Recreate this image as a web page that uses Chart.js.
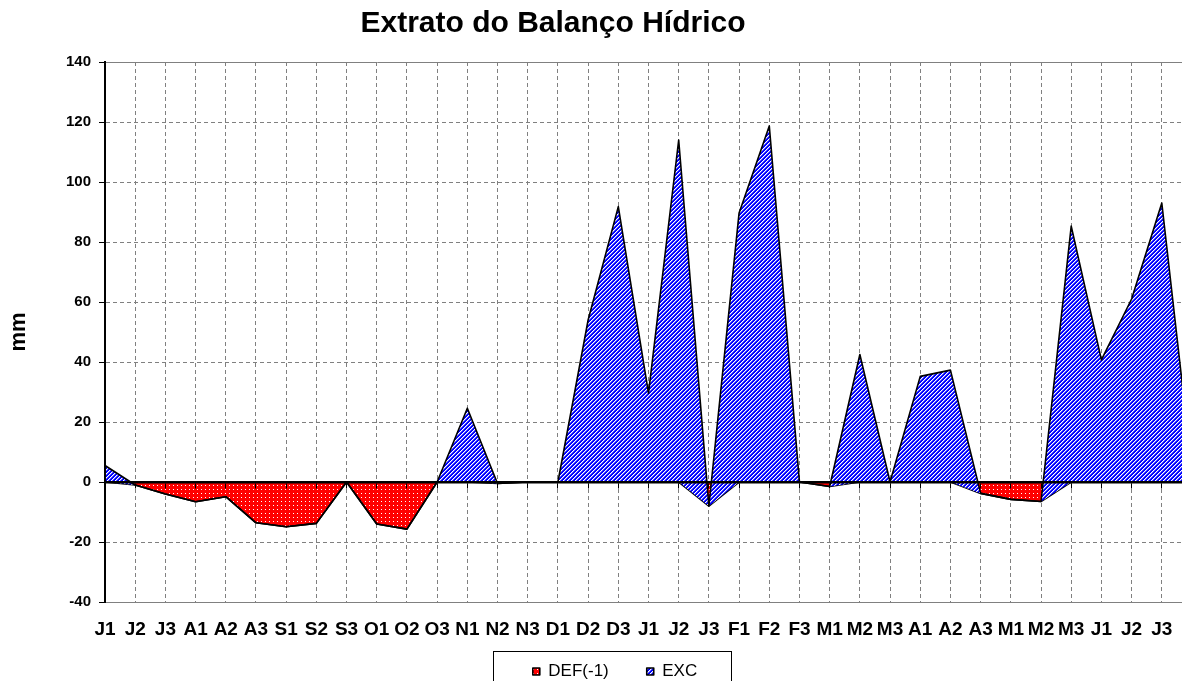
<!DOCTYPE html>
<html>
<head>
<meta charset="utf-8">
<title>Extrato do Balanço Hídrico</title>
<script src="https://cdn.jsdelivr.net/npm/chart.js@4"></script>
<style>
  html, body { margin: 0; padding: 0; overflow: hidden; background: #fff; }
  canvas { display: block; }
</style>
</head>
<body>
<canvas id="balanco" width="1222" height="710"></canvas>
<script>
// decendios (jul -> jun); the last point sits past the cropped right edge
const decendios = ["J1", "J2", "J3", "A1", "A2", "A3", "S1", "S2", "S3", "O1", "O2", "O3",
  "N1", "N2", "N3", "D1", "D2", "D3", "J1", "J2", "J3", "F1", "F2", "F3",
  "M1", "M2", "M3", "A1", "A2", "A3", "M1", "M2", "M3", "J1", "J2", "J3", ""];

// deficit, already multiplied by -1
const def = [0, -1, -4, -6.6, -4.9, -13.6, -14.9, -13.8, 0, -14, -15.7, 0,
  0, -0.5, 0, 0, 0, 0, 0, 0, -8, 0, 0, 0,
  -1.5, 0, 0, 0, 0, -3.8, -5.8, -6.5, 0, 0, 0, 0, 0];

// excedente (stacked on top of DEF, like the excel sheet)
const exc = [5.5, 0, 0, 0, 0, 0, 0, 0, 0, 0, 0, 0,
  24.6, 0, 0, 0, 54, 91.8, 29.6, 114, 0, 89.7, 118.7, 0,
  0, 42.5, 0, 35.2, 37.3, 0, 0, 0, 85.3, 40.7, 61, 93, 4];

const yMin = -40, yMax = 140, yStep = 20;

const fontFamily = "'Liberation Sans', Arial, sans-serif";
Chart.defaults.font.family = fontFamily;
Chart.defaults.color = "#000";

// small fill patterns: red with white dots, blue with white "/" hatch
function makePattern(bg, paint) {
  const c = document.createElement("canvas");
  c.width = 4;
  c.height = 4;
  const g = c.getContext("2d");
  g.fillStyle = bg;
  g.fillRect(0, 0, 4, 4);
  paint(g);
  return g.createPattern(c, "repeat");
}
const dots = makePattern("#ff0000", g => {
  g.fillStyle = "#ffffff";
  g.fillRect(1, 1, 1, 1);
});
const hatch = makePattern("#0000ff", g => {
  for (let i = 0; i < 4; i++) {
    g.fillStyle = "#ffffff";
    g.fillRect(3 - i, i, 1, 1);
    g.fillStyle = "#7070ff";
    g.fillRect((4 - i) % 4, i, 1, 1);
  }
});

// excel draws EXC over DEF, chart.js does the opposite by default
const indexOrder = {
  id: "indexOrder",
  beforeDatasetsDraw(chart) {
    if (typeof chart._drawDataset !== "function") return;
    chart.getSortedVisibleDatasetMetas()
      .slice()
      .sort((a, b) => a.index - b.index)
      .forEach(meta => chart._drawDataset(meta));
    return false;
  }
};

// title and legend are not centred on the same x in the original,
// and the legend sits a bit closer to the axis labels
const boxShift = {
  id: "boxShift",
  afterLayout(chart) {
    chart.titleBlock.left = 0;
    chart.titleBlock.right = 1106;
    chart.legend.left = 38;
    chart.legend.top = 625;
  },
  afterDraw(chart) {
    const lg = chart.legend;
    const cx = (lg.left + lg.right) / 2;
    const ctx = chart.ctx;
    ctx.save();
    ctx.strokeStyle = "#000";
    ctx.lineWidth = 1;
    ctx.strokeRect(Math.round(cx - 122) + 0.5, 651.5, 238, 60);
    ctx.restore();
  }
};

new Chart(document.getElementById("balanco"), {
  type: "line",
  data: {
    labels: decendios,
    datasets: [
      {
        label: "DEF(-1)",
        data: def,
        backgroundColor: dots,
        borderColor: "#000",
        borderWidth: 1.6,
        borderJoinStyle: "round",
        fill: "origin",
        pointRadius: 0,
        tension: 0
      },
      {
        label: "EXC",
        data: exc,
        backgroundColor: hatch,
        borderColor: "#000",
        borderWidth: 1.6,
        borderJoinStyle: "round",
        fill: "-1",
        pointRadius: 0,
        tension: 0
      }
    ]
  },
  options: {
    responsive: false,
    animation: false,
    devicePixelRatio: 1,
    layout: { padding: { left: 0, right: 30, top: 0, bottom: 3 } },
    plugins: {
      title: {
        display: true,
        text: "Extrato do Balanço Hídrico",
        color: "#000",
        font: { size: 30, weight: "bold" },
        padding: { top: 6, bottom: 20 }
      },
      legend: {
        position: "bottom",
        labels: {
          boxWidth: 7,
          boxHeight: 7,
          padding: 38,
          color: "#000",
          font: { size: 17 }
        }
      },
      tooltip: { enabled: false }
    },
    scales: {
      x: {
        offset: false,
        grid: { color: "#808080", drawTicks: false },
        border: { color: "#808080", width: 1, dash: [4, 3] },
        ticks: {
          autoSkip: false,
          maxRotation: 0,
          padding: 16,
          color: "#000",
          font: { size: 19, weight: "bold" }
        },
        afterFit(scale) { scale.height = 40; }
      },
      // category axis crossing at 0, drawn above the areas
      xZero: {
        type: "category",
        position: { y: 0 },
        offset: false,
        grid: { display: true, drawOnChartArea: false, tickLength: 5, tickColor: "#000", z: 1 },
        border: { color: "#000", width: 2.5, z: 1 },
        ticks: { display: false }
      },
      y: {
        stacked: "single",
        min: yMin,
        max: yMax,
        ticks: {
          stepSize: yStep,
          padding: 8,
          color: "#000",
          font: { size: 15, weight: "bold" }
        },
        grid: { color: "#808080", tickLength: 6, tickColor: "#000" },
        border: {
          color: "#000",
          width: 2,
          z: 1,
          dash: ctx => (ctx.tick && (ctx.tick.value === yMin || ctx.tick.value === yMax)) ? [] : [4, 3]
        },
        title: {
          display: true,
          text: "mm",
          color: "#000",
          font: { size: 22, weight: "bold" },
          padding: { top: 6, bottom: 0 }
        },
        afterFit(scale) { scale.width = 105; }
      }
    }
  },
  plugins: [indexOrder, boxShift]
});
</script>
</body>
</html>
